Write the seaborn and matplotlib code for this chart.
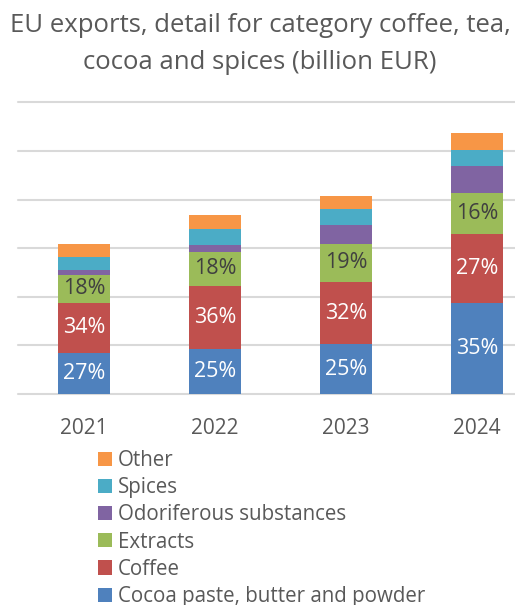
import matplotlib
matplotlib.use("Agg")
import matplotlib.pyplot as plt
import seaborn as sns
import numpy as np
import pandas as pd
from matplotlib.patches import Patch

years = ["2021", "2022", "2023", "2024"]
series_names = ["Cocoa paste, butter and powder", "Coffee", "Extracts",
                "Odoriferous substances", "Spices", "Other"]
cocoa = [1.69, 1.84, 2.04, 3.75]
coffee = [2.07, 2.62, 2.58, 2.84]
extracts = [1.14, 1.37, 1.55, 1.69]
odoriferous = [0.19, 0.32, 0.80, 1.11]
spices = [0.56, 0.63, 0.64, 0.64]
other = [0.52, 0.58, 0.52, 0.69]
cocoa_pct = ["27%", "25%", "25%", "35%"]
coffee_pct = ["34%", "36%", "32%", "27%"]
extracts_pct = ["18%", "18%", "19%", "16%"]

colors = ["#4F81BD", "#C0504D", "#9BBB59", "#8064A2", "#4BACC6", "#F79646"]
values = [cocoa, coffee, extracts, odoriferous, spices, other]
labels = [cocoa_pct, coffee_pct, extracts_pct, None, None, None]
label_colors = ["white", "white", "#404040", None, None, None]

sns.set_style("white")
plt.rcParams["font.family"] = ["Open Sans", "DejaVu Sans"]

W, H = 515, 605
fig = plt.figure(figsize=(W / 100, H / 100), dpi=100)
ax = fig.add_axes([18.5 / W, 1 - 394 / H, 524 / W, (394 - 102.3) / H])

bottom = np.zeros(len(years))
for name, vals, col, labs, lc in zip(series_names, values, colors, labels, label_colors):
    df = pd.DataFrame({"year": years, "value": vals})
    sns.barplot(data=df, x="year", y="value", color=col, bottom=bottom,
                width=0.397, errorbar=None, ax=ax, saturation=1, zorder=3,
                linewidth=0)
    if labs is not None:
        for i, (v, b, t) in enumerate(zip(vals, bottom, labs)):
            ax.text(i, b + v / 2, t, ha="center", va="center", color=lc,
                    fontsize=15.5, zorder=4)
    bottom = bottom + np.array(vals)

ax.set_xlim(-0.5, 3.5)
ax.set_ylim(0, 12)
ax.set_yticks(np.arange(0, 13, 2))
ax.set_yticklabels([])
ax.yaxis.grid(True, color="#D9D9D9", linewidth=1.5, zorder=0)
ax.set_axisbelow(True)
for s in ax.spines.values():
    s.set_visible(False)
ax.tick_params(axis="both", length=0)
ax.tick_params(axis="x", pad=17, labelsize=15, labelcolor="#595959")
ax.set_xlabel("")
ax.set_ylabel("")
for gl in ax.get_ygridlines():
    gl.set_clip_on(False)

fig.text(260 / W, 1 - 44 / H, "EU exports, detail for category coffee, tea,\ncocoa and spices (billion EUR)",
         ha="center", va="center", fontsize=18.5, color="#595959", linespacing=1.62)

handles = [Patch(facecolor=c, edgecolor="none") for c in colors][::-1]
fig.legend(handles, series_names[::-1], loc="upper left",
           bbox_to_anchor=(98 / W, 1 - 450 / H), frameon=False,
           fontsize=14.8, handlelength=0.68, handleheight=0.68, handletextpad=0.3,
           labelspacing=0.30, labelcolor="#595959", borderaxespad=0, borderpad=0)

fig.savefig("out.png", dpi=100)
